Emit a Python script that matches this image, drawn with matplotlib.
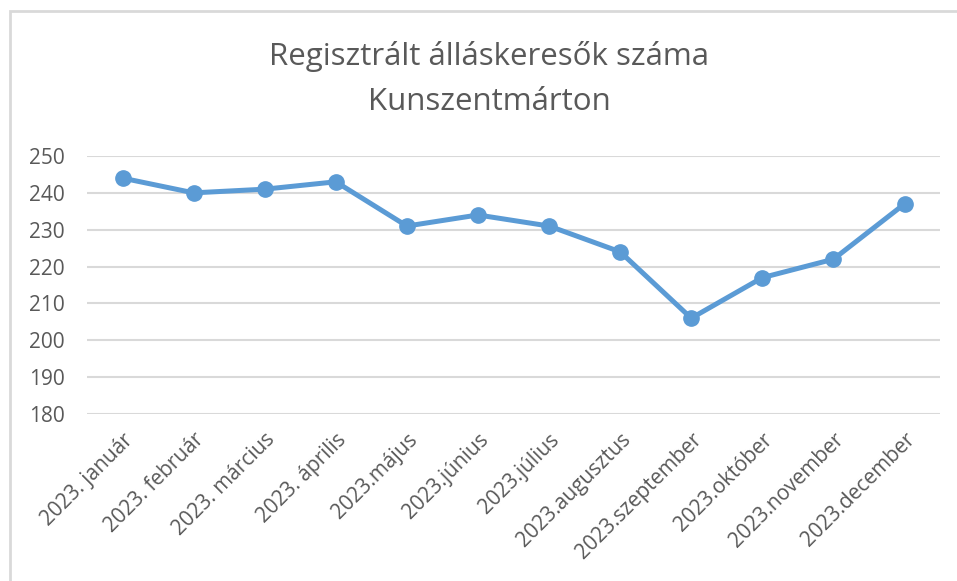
import matplotlib.pyplot as plt
from matplotlib.patches import Rectangle

plt.rcParams['font.family'] = ['Open Sans', 'DejaVu Sans']

months = ["2023. január", "2023. február", "2023. március", "2023. április",
          "2023.május", "2023.június", "2023.július", "2023.augusztus",
          "2023.szeptember", "2023.október", "2023.november", "2023.december"]
jobseekers = [244, 240, 241, 243, 231, 234, 231, 224, 206, 217, 222, 237]
y_ticks = [180, 190, 200, 210, 220, 230, 240, 250]

fig = plt.figure(figsize=(9.57, 5.81), dpi=100)
ax = fig.add_axes([0.0909, 0.2874, 0.8914, 0.4441])

# chart border (only top and left visible in the reference)
fig.patches.append(Rectangle((9.5 / 957, -0.05), 1.2, 1 - 11 / 581 + 0.05,
                             transform=fig.transFigure, fill=False,
                             edgecolor='#d9d9d9', lw=2))

x = range(len(months))
ax.plot(x, jobseekers, color='#5B9BD5', lw=3.6, marker='o', markersize=11,
        solid_capstyle='round', solid_joinstyle='round', zorder=3)

ax.set_xlim(-0.5, len(months) - 0.5)
ax.set_ylim(180, 250)
ax.set_yticks(y_ticks)
ax.set_xticks(list(x))
ax.set_xticklabels(months, rotation=45, ha='right', rotation_mode='anchor')
ax.tick_params(axis='both', length=0, labelcolor='#595959')
ax.tick_params(axis='y', pad=16, labelsize=15)
ax.tick_params(axis='x', pad=11, labelsize=15)

ax.grid(axis='y', color='#d9d9d9', lw=1.5)
ax.set_axisbelow(True)
for s in ax.spines.values():
    s.set_visible(False)

fig.text(0.511, 1 - 57 / 581, "Regisztrált álláskeresők száma", ha='center',
         va='center', fontsize=22.5, color='#595959')
fig.text(0.511, 1 - 102 / 581, "Kunszentmárton", ha='center',
         va='center', fontsize=22.5, color='#595959')

fig.savefig('out.png', dpi=100)
